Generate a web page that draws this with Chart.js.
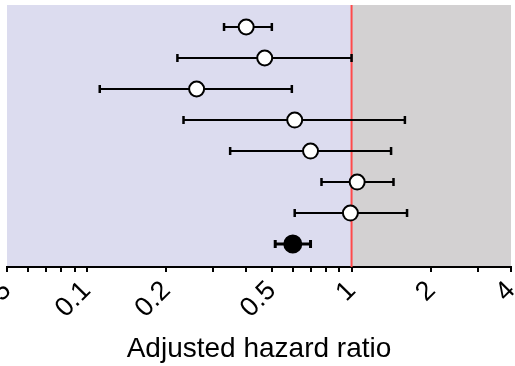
<!DOCTYPE html>
<html>
<head>
<meta charset="utf-8">
<script src="https://cdn.jsdelivr.net/npm/chart.js@4/dist/chart.umd.min.js"></script>
<style>
  html, body { margin: 0; padding: 0; background: #fff; }
  #wrap { width: 515px; height: 366px; }
</style>
</head>
<body>
<div id="wrap"><canvas id="c" width="515" height="366"></canvas></div>
<script>
// Forest plot: one row per estimate, top to bottom
const rows = [0, 1, 2, 3, 4, 5, 6, 7];
const hazardRatio = [0.40, 0.47, 0.26, 0.61, 0.70, 1.05, 0.99, 0.60];
const ciLower = [0.33, 0.22, 0.112, 0.232, 0.348, 0.77, 0.61, 0.515];
const ciUpper = [0.50, 1.00, 0.595, 1.59, 1.41, 1.44, 1.62, 0.70];
const pooled = [false, false, false, false, false, false, false, true];

// Tick marks on the log axis and which of them get a label
const tickValues = [0.05, 0.06, 0.07, 0.08, 0.09, 0.1, 0.2, 0.3, 0.4, 0.5, 0.6, 0.7, 0.8, 0.9, 1, 2, 3, 4];
const tickLabels = [0.05, 0.1, 0.2, 0.5, 1, 2, 4];

const FONT = '"Liberation Sans", Arial, Helvetica, sans-serif';

// Shaded halves of the plot (below / above HR = 1)
const backgroundPlugin = {
  id: 'halves',
  beforeDraw(chart) {
    const { ctx, chartArea: a, scales: { x } } = chart;
    const x1 = x.getPixelForValue(1);
    ctx.save();
    ctx.fillStyle = '#dcdcef';
    ctx.fillRect(a.left, a.top, x1 - a.left, a.bottom - a.top);
    ctx.fillStyle = '#d3d1d2';
    ctx.fillRect(x1, a.top, a.right - x1, a.bottom - a.top);
    ctx.restore();
  }
};

// Reference line at 1 and the confidence interval whiskers
const whiskerPlugin = {
  id: 'whiskers',
  beforeDatasetsDraw(chart) {
    const { ctx, chartArea: a, scales: { x, y } } = chart;
    ctx.save();
    const x1 = x.getPixelForValue(1);
    ctx.strokeStyle = '#ff4a4a';
    ctx.lineWidth = 2;
    ctx.beginPath();
    ctx.moveTo(x1, a.top);
    ctx.lineTo(x1, a.bottom);
    ctx.stroke();

    ctx.strokeStyle = '#000';
    rows.forEach((r, i) => {
      const py = y.getPixelForValue(r);
      const xl = x.getPixelForValue(ciLower[i]);
      const xu = x.getPixelForValue(ciUpper[i]);
      ctx.lineWidth = pooled[i] ? 3 : 2;
      ctx.beginPath();
      ctx.moveTo(xl, py);
      ctx.lineTo(xu, py);
      ctx.stroke();
      ctx.lineWidth = pooled[i] ? 3 : 2.5;
      const h = 4;
      ctx.beginPath();
      ctx.moveTo(xl, py - h); ctx.lineTo(xl, py + h);
      ctx.moveTo(xu, py - h); ctx.lineTo(xu, py + h);
      ctx.stroke();
    });
    ctx.restore();
  }
};

new Chart(document.getElementById('c'), {
  type: 'scatter',
  data: {
    datasets: [{
      data: rows.map((r, i) => ({ x: hazardRatio[i], y: r })),
      pointRadius: pooled.map(p => p ? 8.5 : 7.5),
      pointBackgroundColor: pooled.map(p => p ? '#000' : '#fff'),
      pointBorderColor: '#000',
      pointBorderWidth: 2,
      pointHoverRadius: pooled.map(p => p ? 8.5 : 7.5),
      clip: false
    }]
  },
  options: {
    responsive: false,
    devicePixelRatio: 1,
    animation: false,
    layout: { autoPadding: false, padding: { left: 7, right: 4, top: 5, bottom: 0 } },
    plugins: { legend: { display: false }, tooltip: { enabled: false } },
    scales: {
      x: {
        type: 'logarithmic',
        min: 0.05,
        max: 4,
        afterBuildTicks(scale) {
          scale.ticks = tickValues.map(v => ({ value: v }));
        },
        afterFit(scale) {
          scale.paddingLeft = 0;
          scale.paddingRight = 0;
          scale.height = 99;
        },
        grid: { drawOnChartArea: false, drawTicks: true, tickLength: 5, color: '#000', lineWidth: 2 },
        border: { display: true, color: '#000', width: 2 },
        ticks: {
          autoSkip: false,
          minRotation: 45,
          maxRotation: 45,
          padding: 3,
          color: '#000',
          font: { family: FONT, size: 27 },
          callback: (v) => tickLabels.includes(v) ? String(v) : ''
        },
        title: {
          display: true,
          text: 'Adjusted hazard ratio',
          color: '#000',
          font: { family: FONT, size: 28 },
          padding: { top: 0, bottom: 0 }
        }
      },
      y: {
        type: 'linear',
        reverse: true,
        min: -0.71,
        max: 7.74,
        display: false
      }
    }
  },
  plugins: [backgroundPlugin, whiskerPlugin]
});
</script>
</body>
</html>
